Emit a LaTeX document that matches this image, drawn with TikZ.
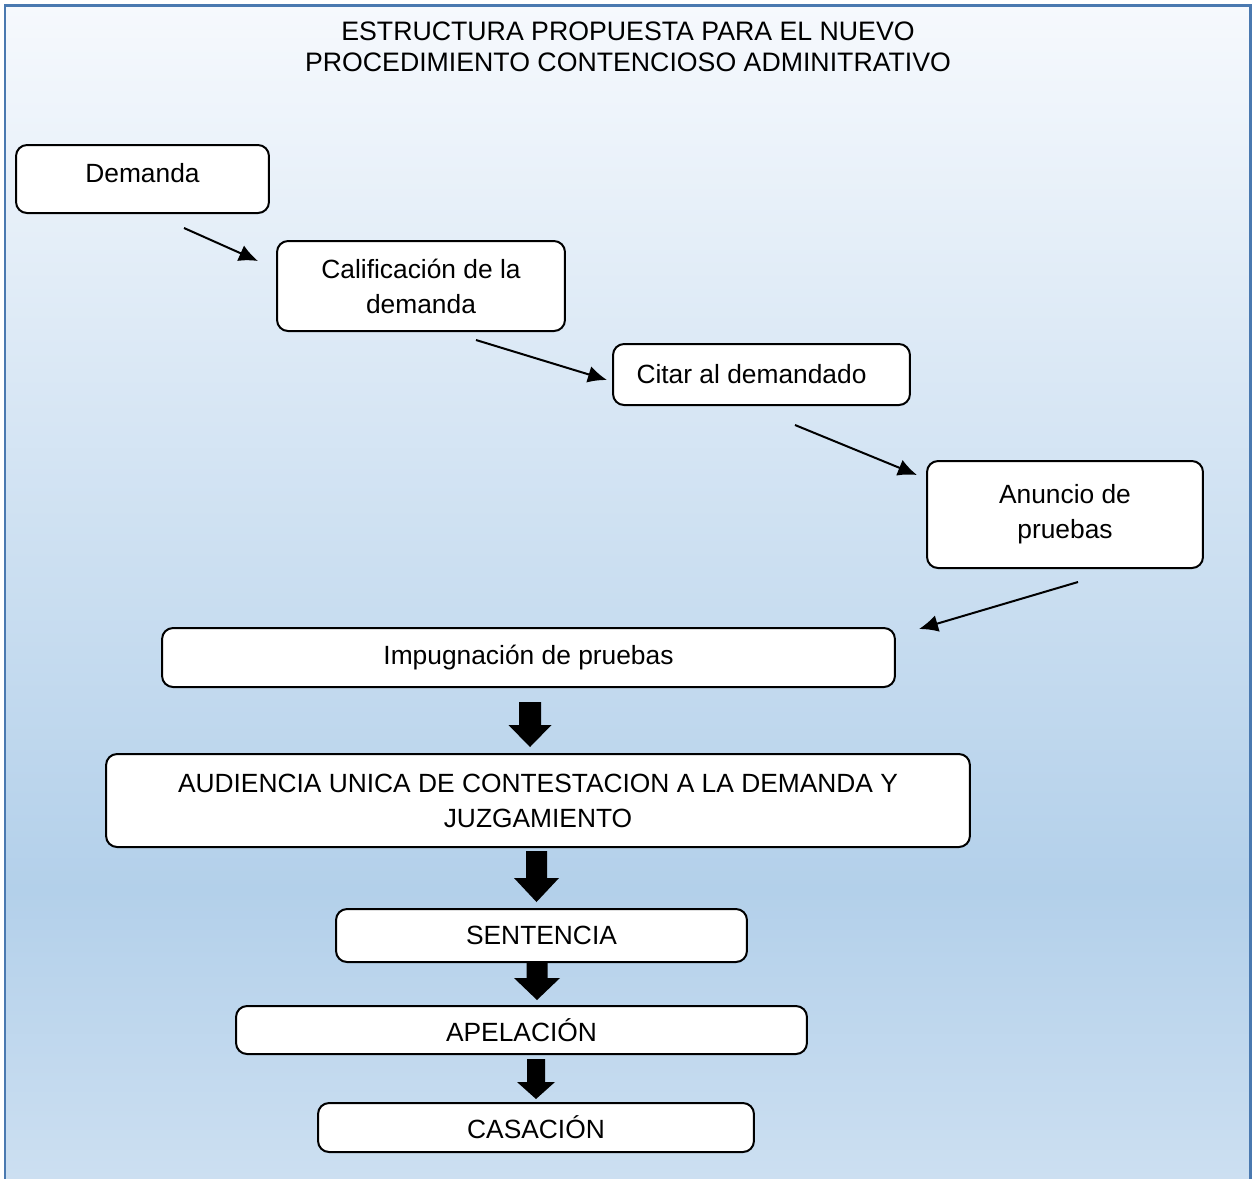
\documentclass[tikz,border=0pt]{standalone}
\usepackage{fontspec}
\setmainfont{Liberation Sans}
\usetikzlibrary{arrows.meta}
\definecolor{framecol}{HTML}{4A79B0}
\definecolor{bgtop}{HTML}{F6F9FD}
\definecolor{bgmid}{HTML}{B3D0EA}
\definecolor{bgbot}{HTML}{CCDFF1}
\tikzset{
  box/.style={draw=black, line width=0.04cm, rounded corners=0.22cm, fill=white,
    align=center, inner sep=0pt, font=\fontsize{15pt}{19.9pt}\selectfont},
  thinarrow/.style={line width=0.04cm, -{Latex[length=0.38cm,width=0.34cm]}},
  blockfill/.style={fill=black}
}
\newcommand\blockarr[6]{%
  \fill[blockfill] ({#1-#5},#2) -- ({#1+#5},#2) -- ({#1+#5},#3) -- ({#1+#6},#3)
    -- (#1,#4) -- ({#1-#6},#3) -- ({#1-#5},#3) -- cycle;}
\begin{document}
\begin{tikzpicture}[x=0.02cm, y=-0.02cm]
\useasboundingbox (0,0) rectangle (1252,1178);
% background
\shade[top color=bgtop, bottom color=bgmid] (5,5) rectangle (1250,890);
\shade[top color=bgmid, bottom color=bgbot] (5,889.5) rectangle (1250,1178);
\draw[framecol, line width=0.06cm] (5,1200) -- (5,5) -- (1250,5) -- (1250,1200);
% title
\node[align=center, font=\fontsize{15.2pt}{17.6pt}\selectfont] (title) at (628,47)
  {ESTRUCTURA PROPUESTA PARA EL NUEVO\\PROCEDIMIENTO CONTENCIOSO ADMINITRATIVO};
% boxes
\node[box, minimum width=5.06cm, minimum height=1.36cm, text depth=0.24cm] (dem) at (142.5,179) {Demanda};
\node[box, minimum width=5.76cm, minimum height=1.80cm] (cal) at (421,286) {Calificación de la\\demanda};
\node[box, minimum width=5.94cm, minimum height=1.22cm] (cit) at (761.5,374.5) {Citar al demandado\hspace*{0.4cm}};
\node[box, minimum width=5.52cm, minimum height=2.14cm] (anu) at (1065,514.5) {Anuncio de\\pruebas};
\node[box, minimum width=14.66cm, minimum height=1.18cm] (imp) at (528.5,657.5) {Impugnación de pruebas};
\node[box, minimum width=17.28cm, minimum height=1.86cm] (aud) at (538,800.5) {AUDIENCIA UNICA DE CONTESTACION A LA DEMANDA Y\\JUZGAMIENTO};
\node[box, minimum width=8.22cm, minimum height=1.06cm] (sen) at (541.5,935.5) {SENTENCIA};
\node[box, minimum width=11.42cm, minimum height=0.96cm] (ape) at (521.5,1030) {APELACIÓN};
\node[box, minimum width=8.72cm, minimum height=0.98cm] (cas) at (536,1127.5) {CASACIÓN};
% thin arrow endpoints
\coordinate (a1s) at (184,228); \coordinate (a1e) at (258,261);
\coordinate (a2s) at (476,340); \coordinate (a2e) at (607,380);
\coordinate (a3s) at (795,425); \coordinate (a3e) at (917,475);
\coordinate (a4s) at (1078,582); \coordinate (a4e) at (919,629);
\draw[thinarrow] (a1s) -- (a1e);
\draw[thinarrow] (a2s) -- (a2e);
\draw[thinarrow] (a3s) -- (a3e);
\draw[thinarrow] (a4s) -- (a4e);
% block arrows
\blockarr{530}{702}{725}{747}{11}{21.5}
\blockarr{536.5}{851}{878}{902}{10.5}{22.5}
\blockarr{537}{963}{978}{1000}{10.5}{23}
\blockarr{536}{1059}{1082}{1099}{9}{19}
\end{tikzpicture}
\end{document}
